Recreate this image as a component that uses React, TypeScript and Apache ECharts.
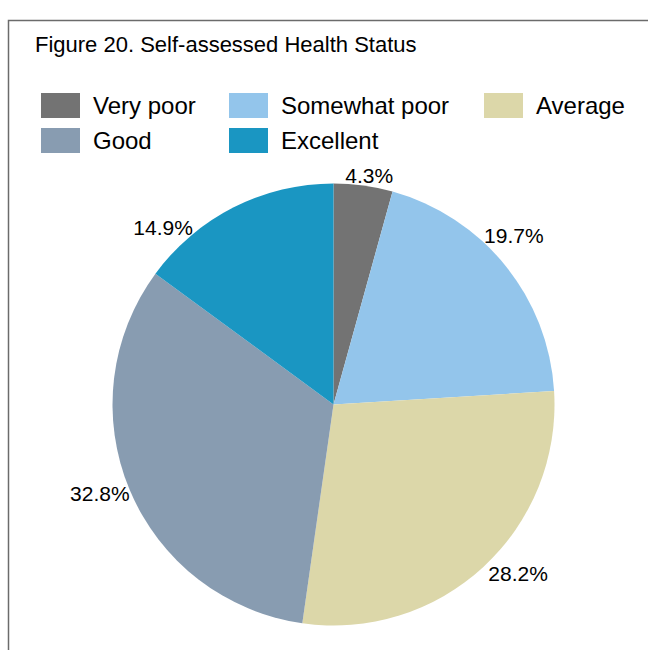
import React, { useEffect, useRef } from "react";
import * as echarts from "echarts";

const categories = ["Very poor", "Somewhat poor", "Average", "Good", "Excellent"];
const values = [4.3, 19.7, 28.2, 32.8, 14.9];
const colors = ["#737373", "#93C5EB", "#DCD7A9", "#889CB1", "#1A96C2"];
const labelAngleShift = [-1.1, 4.1, 4.9, -2.0, 17.0];
const labelRadius = [232, 247, 250, 250, 246];

const CX = 333.5;
const CY = 404.5;
const R = 221;
const FONT = "'Liberation Sans', Arial, sans-serif";

export default function App() {
  const ref = useRef<HTMLDivElement>(null);
  useEffect(() => {
    document.body.style.margin = "0";
    const chart = echarts.init(ref.current!, null, { renderer: "svg" });
    const total = values.reduce((a, b) => a + b, 0);
    const mids: number[] = [];
    let cum = 0;
    values.forEach((v) => {
      mids.push(90 - ((cum + v / 2) / total) * 360);
      cum += v;
    });
    const legendCol = (names: string[], left: number) => ({
      orient: "vertical",
      left,
      top: 93,
      padding: 0,
      itemWidth: 39,
      itemHeight: 25,
      itemGap: 10,
      icon: "rect",
      selectedMode: false,
      data: names,
      textStyle: {
        fontFamily: FONT,
        fontSize: 24,
        lineHeight: 25,
        color: "#000",
        padding: [0, 0, 0, 8],
      },
    });
    chart.setOption({
      animation: false,
      color: colors,
      title: {
        text: "Figure 20. Self-assessed Health Status",
        left: 30,
        top: 28,
        textStyle: { fontFamily: FONT, fontSize: 22, fontWeight: "normal", color: "#000" },
      },
      legend: [
        legendCol(["Very poor", "Good"], 41),
        legendCol(["Somewhat poor", "Excellent"], 229),
        legendCol(["Average"], 484),
      ],
      graphic: [
        {
          type: "polyline",
          shape: { points: [[8.5, 650], [8.5, 20.5], [648, 20.5]] },
          style: { stroke: "#6b6b6b", lineWidth: 1.5, fill: null },
          silent: true,
        },
      ],
      series: [
        {
          type: "pie",
          center: [CX, CY],
          radius: [0, R],
          startAngle: 90,
          clockwise: true,
          data: categories.map((c, i) => ({ name: c, value: values[i] })),
          itemStyle: { borderWidth: 0 },
          label: {
            show: true,
            position: "outside",
            formatter: (p: any) => p.value.toFixed(1) + "%",
            fontFamily: FONT,
            fontSize: 21,
            color: "#000",
          },
          labelLine: { show: false, length: 0, length2: 0 },
          labelLayout: (p: any) => {
            const i = p.dataIndex;
            const a = ((mids[i] + labelAngleShift[i]) * Math.PI) / 180;
            return {
              x: CX + labelRadius[i] * Math.cos(a),
              y: CY - labelRadius[i] * Math.sin(a),
              align: "center",
              verticalAlign: "middle",
            };
          },
        },
      ],
    });
    return () => chart.dispose();
  }, []);
  return <div ref={ref} style={{ width: 648, height: 650 }} />;
}
